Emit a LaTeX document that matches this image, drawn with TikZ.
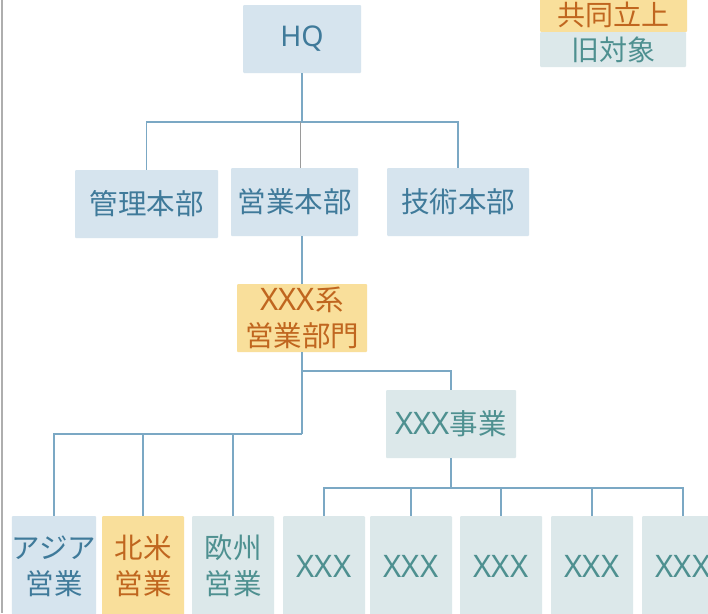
\documentclass[tikz,border=0pt]{standalone}
\usepackage{fontspec}
\setmainfont{Noto Sans CJK JP}
\newfontfamily\latf{Noto Sans}
\newcommand{\xxx}{{\latf\fontsize{31}{36}\selectfont XXX}}
\definecolor{bfill}{HTML}{D6E4EE}
\definecolor{btext}{HTML}{3F7A9A}
\definecolor{ofill}{HTML}{F9DF9B}
\definecolor{otext}{HTML}{C0661F}
\definecolor{tfill}{HTML}{DCE8EA}
\definecolor{ttext}{HTML}{4E9090}
\definecolor{lnc}{HTML}{7BA8C4}
\definecolor{greyln}{HTML}{9A9A9A}
\tikzset{
  boxbase/.style={inner sep=0pt, align=center, rounded corners=1pt, font=\fontsize{28.5}{36}\selectfont},
  bluebox/.style={boxbase, fill=bfill, text=btext},
  orangebox/.style={boxbase, fill=ofill, text=otext},
  tealbox/.style={boxbase, fill=tfill, text=ttext},
  conn/.style={draw=lnc, line width=1.7pt},
  thinconn/.style={draw=greyln, line width=0.9pt},
  botbox/.style={minimum width=82pt, minimum height=100pt},
}
\begin{document}
\begin{tikzpicture}[x=1pt,y=-1pt]
\clip (0,0) rectangle (708,613);
\fill[white] (0,0) rectangle (708,613);
\draw[draw=greyln!80, line width=2pt] (1.5,0) -- (1.5,613);

% legend
\node[orangebox, minimum width=147pt, minimum height=34pt, font=\fontsize{28}{30}\selectfont] (lego) at (613.5,15) {共同立上};
\node[tealbox, minimum width=146pt, minimum height=35pt, font=\fontsize{28}{30}\selectfont] (legt) at (613,49.5) {旧対象};

% top levels
\node[bluebox, minimum width=118pt, minimum height=68pt] (hq) at (302,39) {{\latf HQ}};
\node[bluebox, minimum width=143pt, minimum height=68pt] (kanri) at (146.5,204) {管理本部};
\node[bluebox, minimum width=127pt, minimum height=68pt] (eigyo) at (294.5,202) {営業本部};
\node[bluebox, minimum width=142pt, minimum height=68pt] (gijutsu) at (458,202) {技術本部};
\node[orangebox, minimum width=130pt, minimum height=68pt] (kei) at (302,318) {\xxx 系\\営業部門};
\node[tealbox, minimum width=130pt, minimum height=68pt] (jigyo) at (451,424) {\xxx 事業};

% bottom row
\node[bluebox, botbox] (asia) at (54,566) {アジア\\営業};
\node[orangebox, botbox] (na) at (143,566) {北米\\営業};
\node[tealbox, botbox] (eu) at (233,566) {欧州\\営業};
\node[tealbox, botbox] (x1) at (324,566) {\xxx};
\node[tealbox, botbox] (x2) at (411,566) {\xxx};
\node[tealbox, botbox] (x3) at (501,566) {\xxx};
\node[tealbox, botbox] (x4) at (592,566) {\xxx};
\node[tealbox, botbox] (x5) at (683,566) {\xxx};

% junctions
\coordinate (j1) at (302,122);
\coordinate (j2) at (302,434);
\coordinate (j3) at (302,371);
\coordinate (j4) at (451,488);

% connectors
\draw[conn, line width=2.3pt] (hq.south) -- (j1);
\draw[conn] (kanri.north) |- (j1) -| (gijutsu.north);
\draw[thinconn] (j1 -| 300.5,0) -- (eigyo.north -| 300.5,0);
\draw[conn] (eigyo.south -| kei.north) -- (kei.north);
\draw[conn] (kei.south) -- (j2);
\draw[conn] (asia.north) |- (j2);
\draw[conn] (na.north) -- (na.north |- j2);
\draw[conn] (eu.north) -- (eu.north |- j2);
\draw[conn] (j3) -| (jigyo.north);
\draw[conn] (jigyo.south) -- (j4);
\draw[conn] (x1.north) |- (j4) -| (x5.north);
\draw[conn] (x2.north) -- (x2.north |- j4);
\draw[conn] (x3.north) -- (x3.north |- j4);
\draw[conn] (x4.north) -- (x4.north |- j4);
\end{tikzpicture}
\end{document}
